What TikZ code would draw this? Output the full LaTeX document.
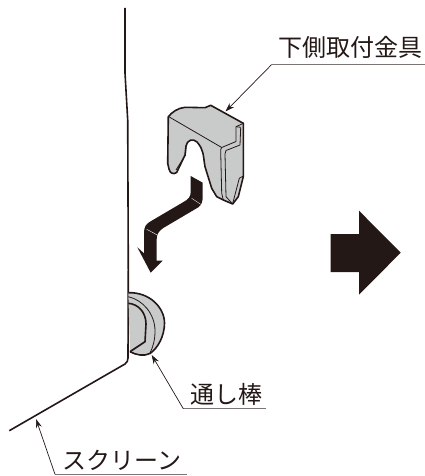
\documentclass[tikz,border=0pt]{standalone}
\usepackage{fontspec}
\setmainfont{Noto Sans CJK JP}
\definecolor{inkblack}{HTML}{231815}
\definecolor{partgray}{HTML}{C9CACA}
\tikzset{
  label text/.style={inner sep=0pt, font=\fontsize{24}{24}\selectfont, text=inkblack},
  leader/.style={draw=inkblack, line width=.7pt, -{Stealth[length=9pt,width=6pt]}},
  underline/.style={draw=inkblack!60, line width=.9pt},
  outline/.style={draw=inkblack, line width=1.6pt, line join=round},
  fold/.style={draw=inkblack, line width=.8pt, line join=round},
  solid arrow/.style={fill=inkblack, draw=none},
}
\usetikzlibrary{arrows.meta}
\begin{document}
\begin{tikzpicture}[x=1pt, y=-1pt]
      \useasboundingbox (0,0) rectangle (425,476);
      % screen edge
      \draw[outline] (125,8) -- (125,73) -- (127.7,120) -- (128.3,270) -- (128,358)
        .. controls (128,361) and (127,362) .. (125,364) -- (9.3,430.7);
      % round bar
      \fill[partgray] (128.3,292.7) .. controls (150,292) and (164.5,308) .. (164.5,323)
        .. controls (164.5,336) and (158,348) .. (150,353.5)
        .. controls (144,356.5) and (136,355) .. (130,351.7) -- cycle;
      \draw[outline] (128.3,292.7) .. controls (150,292) and (164.5,308) .. (164.5,323)
        .. controls (164.5,336) and (158,348) .. (150,353.5)
        .. controls (144,356.5) and (136,355) .. (130,351.7);
      \draw[outline] (128.3,303.3) .. controls (138,304) and (146,312) .. (146,324)
        -- (145,341.7) -- (130,351.7);
      \draw[fold] (128.3,296.7) .. controls (143,300) and (155,314) .. (155,331)
        .. controls (155,340) and (153,347) .. (150,353);
      % lower bracket
      \path[fill=partgray] (168.3,116.7) .. controls (172,112) and (178,108) .. (185,107.3)
        -- (205,107.7) -- (210.7,105.3) -- (243.3,123.3) -- (243.3,176.7) -- (238.3,196.7)
        -- (232.7,204) -- (223.3,200) -- (216.7,196.7) -- (211.7,188.3) -- (205,166.7)
        .. controls (203,155) and (204,150) .. (197,142)
        .. controls (193,138) and (187,140) .. (186,146)
        -- (185,155) -- (176.7,172.5)
        .. controls (173,175) and (170,173) .. (169,169)
        -- (167.7,163.3) -- cycle;
      \draw[outline] (168.3,116.7) .. controls (172,112) and (178,108) .. (185,107.3)
        -- (205,107.7) -- (210.7,105.3) -- (243.3,123.3) -- (243.3,176.7) -- (238.3,196.7)
        -- (232.7,204) -- (223.3,200) -- (216.7,196.7) -- (211.7,188.3) -- (205,166.7)
        .. controls (203,155) and (204,150) .. (197,142)
        .. controls (193,138) and (187,140) .. (186,146)
        -- (185,155) -- (176.7,172.5)
        .. controls (173,175) and (170,173) .. (169,169)
        -- (167.7,163.3) -- cycle;
      \draw[fold] (169.3,117) -- (221.7,147.5) -- (236,141.5) -- (236,126.7) -- (243,123.5);
      \draw[fold] (240.7,127.3) -- (240,145) -- (226,150.5) -- (225,154) -- (226,196.7) -- (232.7,204);
      \draw[fold] (236,126.7) -- (240.7,127.3);
      \draw[fold] (221.7,147.5) .. controls (220.5,149) and (220.5,150) .. (220.7,152)
        -- (221.7,193.3) -- (223.3,200);
      \draw[fold] (243.3,176) -- (239.3,178.3) -- (232.7,203.5);
      \draw[fold] (186,146) -- (185.5,155) -- (176,170);
      % small arrow
      \fill[solid arrow] (190.7,176) -- (202.7,182.7) -- (202.7,196)
        .. controls (202.7,201) and (202,205) .. (198,207.5) -- (163.3,228)
        .. controls (159,231) and (156.7,234) .. (156.7,239) -- (156.7,260.7) -- (162.7,260.7)
        -- (150.7,272.7) -- (137.3,247.3) -- (144,253.3) -- (144,233)
        .. controls (144,227) and (146,224) .. (150,221.7) -- (184,201.7)
        .. controls (188,199.5) and (190.7,197) .. (190.7,192) -- cycle;
      \draw[white, line width=.4pt] (191.7,198.3) -- (200.7,204.3);
      \draw[white, line width=.4pt] (146.7,229.3) -- (157.3,235);
      % big arrow
      \fill[solid arrow] (330.7,234) -- (359,234) -- (359,210.7) -- (400.7,252.7)
        -- (359,294.7) -- (359,272) -- (330.7,272) -- cycle;
      % labels
      \node[label text] (metal) at (350,47) {下側取付金具};
      \node[label text] (bar) at (226.7,394) {通し棒};
      \node[label text] (screen) at (121.7,460) {スクリーン};
      \coordinate (metalbend) at (271.7,64.5);
      \coordinate (metalend) at (425,64.5);
      \coordinate (metaltip) at (225.5,111.5);
      \coordinate (barbend) at (183.3,408.7);
      \coordinate (barend) at (265.7,408.7);
      \coordinate (bartip) at (151.7,355);
      \coordinate (screenbend) at (55,474.3);
      \coordinate (screenend) at (186.7,474.3);
      \coordinate (screentip) at (36,419);
      \draw[underline] (metalbend) -- (metalend);
      \draw[underline] (barbend) -- (barend);
      \draw[underline] (screenbend) -- (screenend);
      \draw[leader] (metalbend) -- (metaltip);
      \draw[leader] (barbend) -- (bartip);
      \draw[leader] (screenbend) -- (screentip);
    \end{tikzpicture}
\end{document}
